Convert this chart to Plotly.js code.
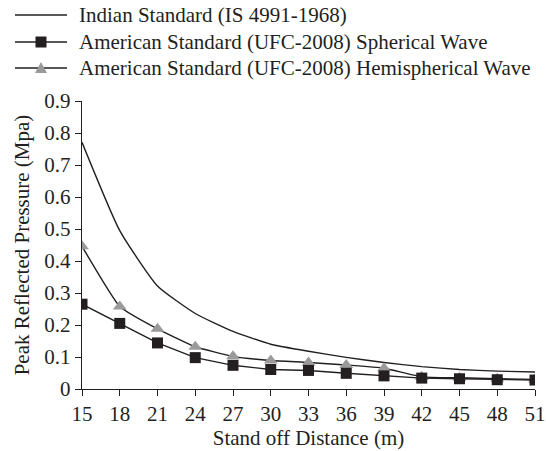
<!DOCTYPE html>
<html>
<head>
<meta charset="utf-8">
<script src="https://cdn.plot.ly/plotly-3.0.1.min.js"></script>
<style>html,body{margin:0;padding:0;background:#fff;}#chart{width:546px;height:451px;}</style>
</head>
<body>
<div id="chart"></div>
<script>
const distance = [15, 18, 21, 24, 27, 30, 33, 36, 39, 42, 45, 48, 51];
const indianStd = [0.771, 0.495, 0.322, 0.236, 0.180, 0.140, 0.118, 0.099, 0.083, 0.070, 0.061, 0.056, 0.053];
const ufcSpherical = [0.265, 0.205, 0.144, 0.098, 0.074, 0.061, 0.058, 0.049, 0.041, 0.034, 0.032, 0.029, 0.028];
const ufcHemispherical = [0.446, 0.258, 0.188, 0.132, 0.102, 0.089, 0.083, 0.075, 0.065, 0.038, 0.035, 0.032, 0.030];
const names = [
  'Indian Standard (IS 4991-1968)',
  'American Standard (UFC-2008) Spherical Wave',
  'American Standard (UFC-2008) Hemispherical Wave'
];
const xTicks = [15, 18, 21, 24, 27, 30, 33, 36, 39, 42, 45, 48, 51];
const yTicks = [0, 0.1, 0.2, 0.3, 0.4, 0.5, 0.6, 0.7, 0.8, 0.9];

const ink = '#231f20';
const grey = '#9a9a9a';
const font = 'Liberation Serif, Times New Roman, serif';
const fs = 21;

const traces = [
  {x: distance, y: indianStd, name: names[0], mode: 'lines',
   line: {color: ink, width: 1.4, shape: 'spline', smoothing: 0.5}},
  {x: distance, y: ufcHemispherical, name: names[2], mode: 'lines+markers',
   line: {color: ink, width: 1.4, shape: 'spline', smoothing: 0.4},
   marker: {symbol: 'triangle-up', size: 12, color: grey}},
  {x: distance, y: ufcSpherical, name: names[1], mode: 'lines+markers',
   line: {color: ink, width: 1.4},
   marker: {symbol: 'square', size: 11, color: ink}}
];

// Legend drawn as shapes + annotations above the plot (pixel offsets from plot's top-left corner)
const M = {l: 82, r: 11, t: 101, b: 62};
const plotW = 546 - M.l - M.r, plotH = 451 - M.t - M.b;
const rowsPx = [15, 42, 68];
const shapes = [], annotations = [];
rowsPx.forEach((py, i) => {
  const oy = M.t - py;
  const base = {xref: 'paper', yref: 'paper', xsizemode: 'pixel', ysizemode: 'pixel', xanchor: 0, yanchor: 1};
  shapes.push(Object.assign({}, base, {type: 'line', x0: 15 - M.l, x1: 67 - M.l, y0: oy, y1: oy,
    line: {color: ink, width: 1.4}}));
  if (i === 1) {
    shapes.push(Object.assign({}, base, {type: 'rect', x0: 41 - M.l - 5.5, x1: 41 - M.l + 5.5,
      y0: oy - 5.5, y1: oy + 5.5, line: {width: 0}, fillcolor: ink}));
  }
  if (i === 2) {
    const cx = 41 - M.l;
    shapes.push(Object.assign({}, base, {type: 'path',
      path: `M ${cx - 6},${oy - 5} L ${cx + 6},${oy - 5} L ${cx},${oy + 6} Z`,
      line: {width: 0}, fillcolor: grey}));
  }
  annotations.push({xref: 'paper', yref: 'paper', x: (77 - M.l) / plotW, y: (451 - M.b - py) / plotH,
    xanchor: 'left', yanchor: 'middle', showarrow: false, text: names[i],
    font: {family: font, size: fs, color: ink}});
});

const layout = {
  width: 546, height: 451,
  margin: M,
  paper_bgcolor: '#fff', plot_bgcolor: '#fff',
  font: {family: font, size: fs, color: ink},
  showlegend: false,
  shapes: shapes, annotations: annotations,
  xaxis: {range: [15, 51], tickvals: xTicks, ticktext: xTicks.map(String),
          showline: true, linecolor: ink, linewidth: 1.2, ticks: 'outside', ticklen: 6,
          tickcolor: ink, showgrid: false, zeroline: false, tickfont: {size: fs},
          ticklabeloverflow: 'allow',
          title: {text: 'Stand off Distance (m)', font: {family: font, size: fs, color: ink}, standoff: 4}},
  yaxis: {range: [0, 0.9], tickvals: yTicks, ticktext: yTicks.map(v => v === 0 ? '0' : v.toFixed(1)),
          showline: true, linecolor: ink, linewidth: 1.2, ticks: 'outside', ticklen: 6,
          tickcolor: ink, showgrid: false, zeroline: false, tickfont: {size: fs},
          ticklabeloverflow: 'allow',
          title: {text: 'Peak Reflected Pressure (Mpa)', font: {family: font, size: fs, color: ink}, standoff: 9}}
};
Plotly.newPlot('chart', traces, layout, {displayModeBar: false, staticPlot: true});
</script>
</body>
</html>
